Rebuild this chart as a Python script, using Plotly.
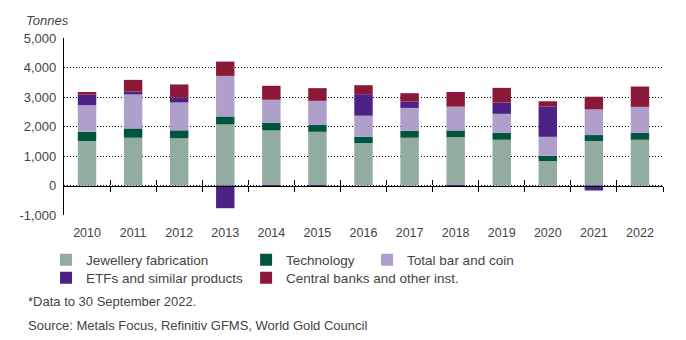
import plotly.graph_objects as go

years = ["2010", "2011", "2012", "2013", "2014", "2015", "2016",
         "2017", "2018", "2019", "2020", "2021", "2022"]
jewellery = [1510, 1620, 1600, 2070, 1870, 1820, 1440, 1620, 1640, 1550, 830, 1510, 1550]
technology = [310, 315, 270, 270, 260, 230, 215, 235, 225, 235, 180, 200, 235]
bar_coin = [900, 1150, 945, 1375, 775, 820, 710, 775, 810, 645, 640, 870, 880]
etfs = [360, 100, 160, -770, -25, -25, 730, 215, -20, 385, 1025, -170, 0]
central_banks = [90, 395, 450, 485, 475, 430, 305, 285, 495, 495, 180, 430, 690]

y_ticks = [-1000, 0, 1000, 2000, 3000, 4000, 5000]
y_ticktext = ["-1,000", "0", "1,000", "2,000", "3,000", "4,000", "5,000"]

series = [
    ("Jewellery fabrication", jewellery, "#93ACA0", "legend"),
    ("Technology", technology, "#00553F", "legend2"),
    ("Total bar and coin", bar_coin, "#AF9FCB", "legend3"),
    ("ETFs and similar products", etfs, "#4C2286", "legend4"),
    ("Central banks and other inst.", central_banks, "#8C1837", "legend5"),
]

TXT = "#444444"
FONT = "Liberation Sans"

fig = go.Figure()
for name, vals, color, lg in series:
    fig.add_trace(go.Bar(x=years, y=vals, name=name, marker_color=color,
                         marker_line_width=0, legend=lg))

# invisible traces to establish the overlay axes (zero line with divider ticks)
dividers = [i + 0.5 for i in range(len(years))]
for ax in ("x2", "x3"):
    fig.add_trace(go.Scatter(x=[], y=[], xaxis=ax, showlegend=False, hoverinfo="skip"))

ymin, ymax = y_ticks[0], y_ticks[-1]
zero_pos = (0 - ymin) / (ymax - ymin)

common_overlay = dict(overlaying="x", anchor="free", position=zero_pos,
                      range=[-0.5, len(years) - 0.5], showline=True,
                      linecolor="black", linewidth=1.3, tickmode="array",
                      tickvals=dividers, ticklen=5, tickcolor="black", tickwidth=1.3,
                      showticklabels=False, showgrid=False, zeroline=False)

legend_common = dict(orientation="v", xanchor="left", yanchor="middle",
                     bgcolor="rgba(0,0,0,0)", font=dict(family=FONT, size=13.5, color=TXT),
                     itemclick=False, itemdoubleclick=False)

fig.update_layout(
    width=686, height=340,
    margin=dict(l=64, r=23, t=38, b=125),
    paper_bgcolor="white", plot_bgcolor="white",
    barmode="relative", bargap=0.6,
    font=dict(family=FONT, size=13, color=TXT),
    xaxis=dict(type="category", showline=False, showgrid=False, zeroline=False,
               ticks="", ticklabelstandoff=8, tickfont=dict(size=12.5, color=TXT)),
    xaxis2=dict(ticks="outside", **common_overlay),
    xaxis3=dict(ticks="inside", **common_overlay),
    yaxis=dict(range=[ymin, ymax], tickmode="array", tickvals=y_ticks, ticktext=y_ticktext,
               showgrid=True, gridcolor="black", griddash="1px,2px", gridwidth=1,
               zeroline=False, showline=True, linecolor="black", linewidth=1.3,
               ticks="", ticklabelstandoff=4, tickfont=dict(size=13, color=TXT)),
    legend=dict(x=-0.030, y=-0.254, **legend_common),
    legend2=dict(x=0.304, y=-0.254, **legend_common),
    legend3=dict(x=0.506, y=-0.254, **legend_common),
    legend4=dict(x=-0.030, y=-0.356, **legend_common),
    legend5=dict(x=0.304, y=-0.356, **legend_common),
    showlegend=True,
)

fig.add_annotation(text="<i>Tonnes</i>", xref="paper", yref="paper", x=-0.067, y=1.10,
                   xanchor="left", yanchor="middle", showarrow=False,
                   font=dict(family=FONT, size=13, color=TXT))
fig.add_annotation(text="*Data to 30 September 2022.", xref="paper", yref="paper",
                   x=-0.064, y=-0.486, xanchor="left", yanchor="middle", showarrow=False,
                   font=dict(family=FONT, size=13, color=TXT))
fig.add_annotation(text="Source: Metals Focus, Refinitiv GFMS, World Gold Council",
                   xref="paper", yref="paper", x=-0.064, y=-0.627, xanchor="left",
                   yanchor="middle", showarrow=False,
                   font=dict(family=FONT, size=13, color=TXT))

fig.write_html("out.html")
